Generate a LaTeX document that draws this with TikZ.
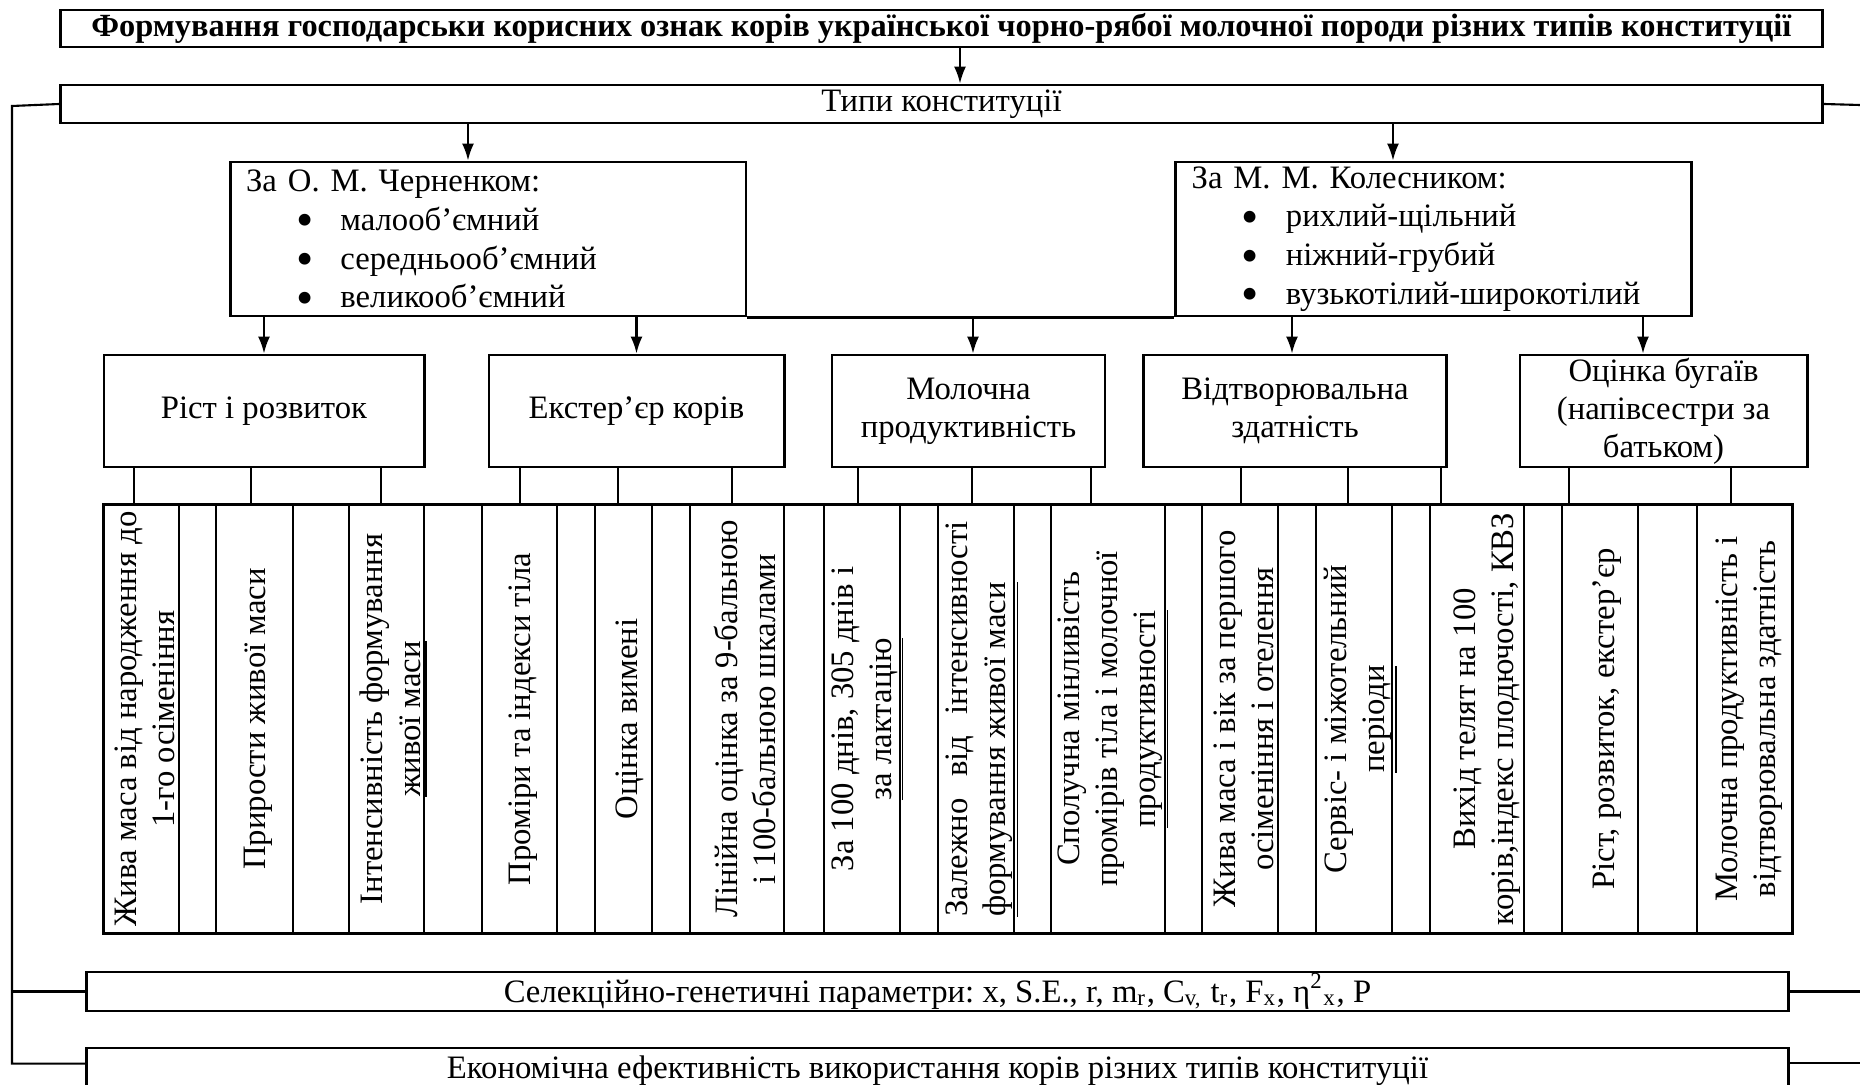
\documentclass[tikz,border=0pt]{standalone}
\usepackage{fontspec}
\setmainfont{Liberation Serif}
\usepackage{tikz}
\usetikzlibrary{positioning, arrows.meta, calc}
\newcommand{\blt}{\hspace*{0.5cm}\raisebox{-1.8pt}[0pt][0pt]{\fontsize{14pt}{1pt}\selectfont•}\hspace*{0.27cm}}
\frenchspacing

\begin{document}
\begin{tikzpicture}[
  x=0.01cm, y=-0.01cm,
  every node/.style={font=\fontsize{9.3pt}{10.8pt}\selectfont, inner sep=0pt},
  box/.style={draw, line width=0.8pt, align=center},
  listbox/.style={draw, line width=0.8pt, align=left, text width=4.835cm, inner xsep=0.16cm,
    minimum height=1.54cm, font=\fontsize{9.3pt}{11.05pt}\selectfont},
  cell/.style={rotate=90, align=center},
  arr/.style={-{Latex[length=1.7mm, width=1.2mm]}, line width=0.6pt},
  ln/.style={line width=0.6pt}
]
\useasboundingbox (0,0) rectangle (1860,1085);

\node[box, minimum width=17.61cm, minimum height=0.37cm,
  font=\bfseries\fontsize{9.2pt}{10pt}\selectfont] (title) at (941.5,28.5)
  {Формування господарськи корисних ознак корів української чорно-рябої молочної породи різних типів конституції};
\node[box, minimum width=17.61cm, minimum height=0.38cm] (types) at (941.5,104) {Типи конституції};

\node[listbox] (chern) at (488,239)
  {За О. М. Черненком:\\
   \blt малооб’ємний\\
   \blt середньооб’ємний\\
   \blt великооб’ємний};
\node[listbox] (kol) at (1433.5,239)
  {За М. М. Колесником:\\
   \blt рихлий-щільний\\
   \blt ніжний-грубий\\
   \blt вузькотілий-широкотілий};

\node[box, minimum width=3.2cm, minimum height=1.12cm] (rist) at (264,411) {Ріст і розвиток};
\node[box, minimum width=2.95cm, minimum height=1.12cm] (ext) at (636.5,411) {Екстер’єр корів};
\node[box, minimum width=2.73cm, minimum height=1.12cm] (mol) at (968.5,411) {Молочна\\продуктивність};
\node[box, minimum width=3.03cm, minimum height=1.12cm] (vidt) at (1295,411) {Відтворювальна\\здатність};
\node[box, minimum width=2.87cm, minimum height=1.12cm] (buh) at (1663.5,411) {Оцінка бугаїв\\(напівсестри за\\батьком)};

\node[draw, line width=0.8pt, minimum width=16.88cm, minimum height=4.28cm] (tab) at (948,719) {};
\foreach \x in {179,216,293,349,424,482,557,595,652,690,784,824,900,938,1014,1051,1165,1202,1278,1316,1392,1430,1524,1562,1638,1697}
  \draw[ln] (tab.north -| \x,0) -- (tab.south -| \x,0);

\node[cell] (c1) at (148,719) {Жива маса від народження до\\\underline{1-го осіменіння}};
\node[cell] (c2) at (258,719) {Прирости живої маси};
\node[cell] (c3) at (394,719) {Інтенсивність формування\\\underline{живої маси}};
\node[cell] (c4) at (523,719) {Проміри та індекси тіла};
\node[cell] (c5) at (630,719) {Оцінка вимені};
\node[cell] (c6) at (745,719) {Лінійна оцінка за 9-бальною\\і 100-бальною шкалами};
\node[cell] (c7) at (868,719) {За 100 днів, 305 днів і\\\underline{за лактацію}};
\node[cell, align=left] (c8) at (983,719) {\makebox[3.95cm][s]{Залежно від інтенсивності}\\\underline{формування живої маси}};
\node[cell] (c9) at (1114,719) {Сполучна мінливість\\промірів тіла і молочної\\\underline{продуктивності}};
\node[cell] (c10) at (1247,719) {Жива маса і вік за першого\\\underline{осіменіння і отелення}};
\node[cell] (c11) at (1361,719) {Сервіс- і міжотельний\\\underline{періоди}};
\node[cell] (c12) at (1487,719) {Вихід телят на 100\\корів,індекс плодючості, КВЗ};
\node[cell] (c13) at (1607,719) {Ріст, розвиток, екстер’єр};
\node[cell] (c14) at (1749,719) {Молочна продуктивність і\\відтворювальна здатність};

\node[box, minimum width=17.01cm, minimum height=0.39cm] (sel) at (937.5,991.5)
  {Селекційно-генетичні параметри: x, S.E., r, m\textsubscript{r}, C\textsubscript{v,} t\textsubscript{r}, F\textsubscript{x}, η\textsuperscript{2}\textsubscript{x}, P};
\node[box, minimum width=17.01cm, minimum height=0.46cm] (econ) at (937.5,1071)
  {Економічна ефективність використання корів різних типів конституції};

\draw[arr] (title.south -| 960,0) -- (types.north -| 960,0);
\draw[arr] (types.south -| 468,0) -- (chern.north -| 468,0);
\draw[arr] (types.south -| 1393,0) -- (kol.north -| 1393,0);
\draw[ln] (chern.south east) -- (kol.south west);
\draw[arr] (chern.south -| rist.north) -- (rist.north);
\draw[arr] (chern.south -| ext.north) -- (ext.north);
\draw[arr] (kol.south -| 973,0) -- (mol.north -| 973,0);
\draw[arr] (kol.south -| 1292,0) -- (vidt.north -| 1292,0);
\draw[arr] (kol.south -| 1643,0) -- (buh.north -| 1643,0);

\foreach \x/\b in {134/rist,251/rist,381/rist,520/ext,618/ext,732/ext,858/mol,972/mol,1091/mol,1241/vidt,1348/vidt,1441/vidt,1569/buh,1731/buh}
  \draw[ln] (\b.south -| \x,0) -- (tab.north -| \x,0);

\coordinate (lft) at (12,106);
\coordinate (rgt) at (1860,105);
\coordinate (e1) at ($(econ.north west)+(0,17)$);
\coordinate (e2) at ($(econ.north east)+(0,16)$);
\draw[ln] (types.west) -- (lft) |- (e1);
\draw[ln] (lft |- sel.west) -- (sel.west);
\draw[ln] (types.east) -- (rgt);
\draw[ln] (sel.east) -- (sel.east -| rgt);
\draw[ln] (e2) -- (e2 -| rgt);
\end{tikzpicture}
\end{document}
